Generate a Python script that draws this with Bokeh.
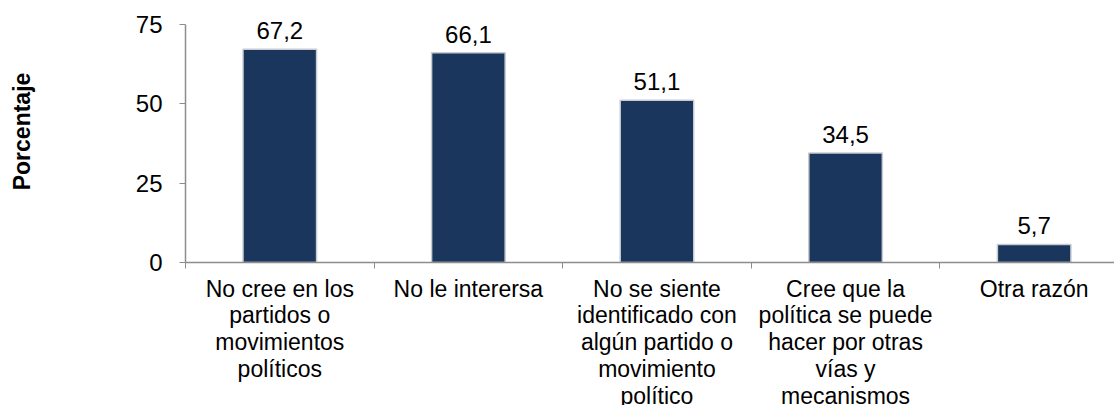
from bokeh.plotting import figure
from bokeh.models import ColumnDataSource, Range1d, FixedTicker, LabelSet
from bokeh.core.properties import value
from bokeh.embed import file_html
from bokeh.resources import INLINE

categories = [
    "No cree en los\npartidos o\nmovimientos\npolíticos",
    "No le interersa",
    "No se siente\nidentificado con\nalgún partido o\nmovimiento\npolítico",
    "Cree que la\npolítica se puede\nhacer por otras\nvías y\nmecanismos",
    "Otra razón",
]
values = [67.2, 66.1, 51.1, 34.5, 5.7]
y_ticks = [0, 25, 50, 75]
y_title = "Porcentaje"

FONT = "Liberation Sans"
BAR = "#1b365d"
AXIS = "#8c8c8c"

n = len(categories)
xs = [i + 0.5 for i in range(n)]
labels = [f"{v:.1f}".replace(".", ",") for v in values]
src = ColumnDataSource(dict(x=xs, top=values, label=labels))

# frame extends 24px above the 75 tick so the value labels are not clipped
y_top = y_ticks[-1] * 262 / 238

p = figure(frame_width=929, frame_height=262, output_backend="svg",
           toolbar_location=None,
           x_range=Range1d(0, 4.926), y_range=Range1d(0, y_top),
           min_border_left=185, min_border_right=0, min_border_top=0,
           min_border_bottom=0)
p.outline_line_color = None
p.xgrid.grid_line_color = None
p.ygrid.grid_line_color = None
p.background_fill_color = "white"
p.border_fill_color = "white"

p.vbar(x="x", top="top", bottom=0, width=0.39, source=src,
       fill_color=BAR, line_color="#c8ccd2", line_width=1.5)
p.add_layout(LabelSet(x="x", y="top", text="label", source=src,
                      text_align="center", text_baseline="bottom",
                      y_offset=10, text_font=value(FONT),
                      text_font_size="24px", text_color="#000000"))

xa = p.xaxis[0]
xa.ticker = FixedTicker(ticks=xs, minor_ticks=list(range(n)))
xa.major_label_overrides = {x: c for x, c in zip(xs, categories)}
xa.major_tick_line_color = None
xa.minor_tick_line_color = AXIS
xa.minor_tick_out = 6
xa.minor_tick_in = 0
xa.axis_line_color = AXIS
xa.axis_line_width = 1.5
xa.major_label_text_font = FONT
xa.major_label_text_font_size = "23px"
xa.major_label_text_color = "#000000"
xa.major_label_text_line_height = 1.03
xa.major_label_standoff = 7

ya = p.yaxis[0]
ya.ticker = FixedTicker(ticks=y_ticks)
ya.bounds = (y_ticks[0], y_ticks[-1])
ya.minor_tick_line_color = None
ya.major_tick_line_color = AXIS
ya.major_tick_out = 6
ya.major_tick_in = 0
ya.axis_line_color = AXIS
ya.axis_line_width = 1.5
ya.major_label_text_font = FONT
ya.major_label_text_font_size = "24px"
ya.major_label_text_color = "#000000"
ya.major_label_standoff = 17
ya.axis_label = y_title
ya.axis_label_text_font = FONT
ya.axis_label_text_font_style = "bold"
ya.axis_label_text_font_size = "23px"
ya.axis_label_text_color = "#000000"
ya.axis_label_standoff = 98

open("out.html", "w").write(file_html(p, INLINE))
